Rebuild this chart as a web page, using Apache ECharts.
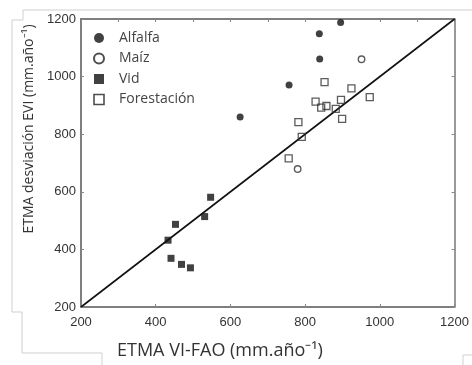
<!DOCTYPE html>
<html>
<head>
<meta charset="utf-8">
<script src="https://cdn.jsdelivr.net/npm/echarts@6/dist/echarts.min.js"></script>
<style>html,body{margin:0;padding:0;background:#fff}#c{width:472px;height:365px}</style>
</head>
<body>
<div id="c"></div>
<script>
// Data (ETMA VI-FAO, ETMA desviación EVI) in mm/año
const alfalfa = [[626,860],[757,971],[838,1149],[839,1061],[895,1188]];
const maiz = [[780,679],[951,1060]];
const vid = [[433,432],[441,369],[453,487],[469,348],[493,336],[531,514],[547,581]];
const forestacion = [[756,716],[782,842],[791,791],[828,913],[843,892],[852,981],[857,898],[882,888],[896,919],[899,853],[924,959],[973,929]];
const oneToOne = [[200,200],[1200,1200]];
const seriesNames = ['Alfalfa','Maíz','Vid','Forestación'];
const axisMin = 200, axisMax = 1200, axisStep = 200;

const chart = echarts.init(document.getElementById('c'), null, {renderer:'canvas'});
const sqIcon = 'path://M0,0H10V10H0Z';
const axisCol = '#555';
const tickFont = {fontFamily:'Liberation Sans', fontSize:13, color:'#333', formatter:(v)=>String(v)};
const frame = '#cfcfcf';
chart.setOption({
  animation:false,
  backgroundColor:'#fff',
  grid:{left:81, right:12, top:19, bottom:58},
  legend:{
    orient:'vertical', left:88, top:25, itemWidth:30, itemHeight:10, itemGap:4.5,
    textStyle:{fontFamily:'Open Sans', fontSize:14, lineHeight:16, color:'#444'},
    data:[
      {name:seriesNames[0], icon:'circle', itemStyle:{color:'#111', borderWidth:0}},
      {name:seriesNames[1], icon:'circle', itemStyle:{color:'#fff', borderColor:'#222', borderWidth:2}},
      {name:seriesNames[2], icon:sqIcon, itemStyle:{color:'#111', borderWidth:0}},
      {name:seriesNames[3], icon:sqIcon, itemStyle:{color:'#fff', borderColor:'#222', borderWidth:1.6}}
    ]
  },
  xAxis:[
    {type:'value', position:'bottom', min:axisMin, max:axisMax, interval:axisStep,
     axisLine:{show:true, lineStyle:{color:axisCol, width:1.5}},
     axisTick:{show:true, inside:true, length:3, lineStyle:{color:'#888'}},
     axisLabel:{...tickFont, margin:9, showMaxLabel:true, showMinLabel:true},
     splitLine:{show:false}},
    {type:'value', position:'top', min:axisMin, max:axisMax, interval:100,
     axisLine:{show:true, lineStyle:{color:axisCol, width:1.5}},
     axisTick:{show:true, inside:true, length:3, lineStyle:{color:'#888'}},
     axisLabel:{show:false}, splitLine:{show:false}}
  ],
  yAxis:[
    {type:'value', position:'left', min:axisMin, max:axisMax, interval:axisStep,
     axisLine:{show:true, lineStyle:{color:axisCol, width:1.5}},
     axisTick:{show:true, inside:true, length:3, lineStyle:{color:'#888'}},
     axisLabel:{...tickFont, margin:5, showMaxLabel:true, showMinLabel:true},
     splitLine:{show:false}},
    {type:'value', position:'right', min:axisMin, max:axisMax, interval:axisStep,
     axisLine:{show:true, lineStyle:{color:'#777', width:1.5}},
     axisTick:{show:true, inside:true, length:3, lineStyle:{color:'#888'}},
     axisLabel:{show:false}, splitLine:{show:false}}
  ],
  series:[
    {type:'line', data:oneToOne, showSymbol:false, symbol:'none', silent:true,
     lineStyle:{color:'#111', width:1.6}, z:1},
    {name:seriesNames[0], type:'scatter', data:alfalfa, symbol:'circle', symbolSize:7,
     itemStyle:{color:'#111'}, z:3},
    {name:seriesNames[1], type:'scatter', data:maiz, symbol:'circle', symbolSize:6.5,
     itemStyle:{color:'transparent', borderColor:'#333', borderWidth:1.4}, z:3},
    {name:seriesNames[2], type:'scatter', data:vid, symbol:'rect', symbolSize:7,
     itemStyle:{color:'#111'}, z:3},
    {name:seriesNames[3], type:'scatter', data:forestacion, symbol:'rect', symbolSize:7,
     itemStyle:{color:'transparent', borderColor:'#333', borderWidth:1.3}, z:3}
  ],
  graphic:[
    {type:'text', left:117, top:342, style:{text:'ETMA VI-FAO (mm.año⁻¹)', font:'18px "Open Sans"', fill:'#333'}},
    {type:'text', x:29, y:129, rotation:Math.PI/2,
     style:{text:'ETMA desviación EVI (mm.año⁻¹)', font:'14px "Open Sans"', fill:'#333', align:'center', verticalAlign:'middle'}},
    {type:'polyline', silent:true, shape:{points:[[472,10],[23,10],[23,20],[12,20],[12,312],[22,312],[22,353],[102,353],[102,365]]},
     style:{stroke:frame, lineWidth:1, fill:null}},
    {type:'polyline', silent:true, shape:{points:[[463,365],[463,355],[472,355]]},
     style:{stroke:frame, lineWidth:1, fill:null}}
  ]
});
</script>
</body>
</html>
